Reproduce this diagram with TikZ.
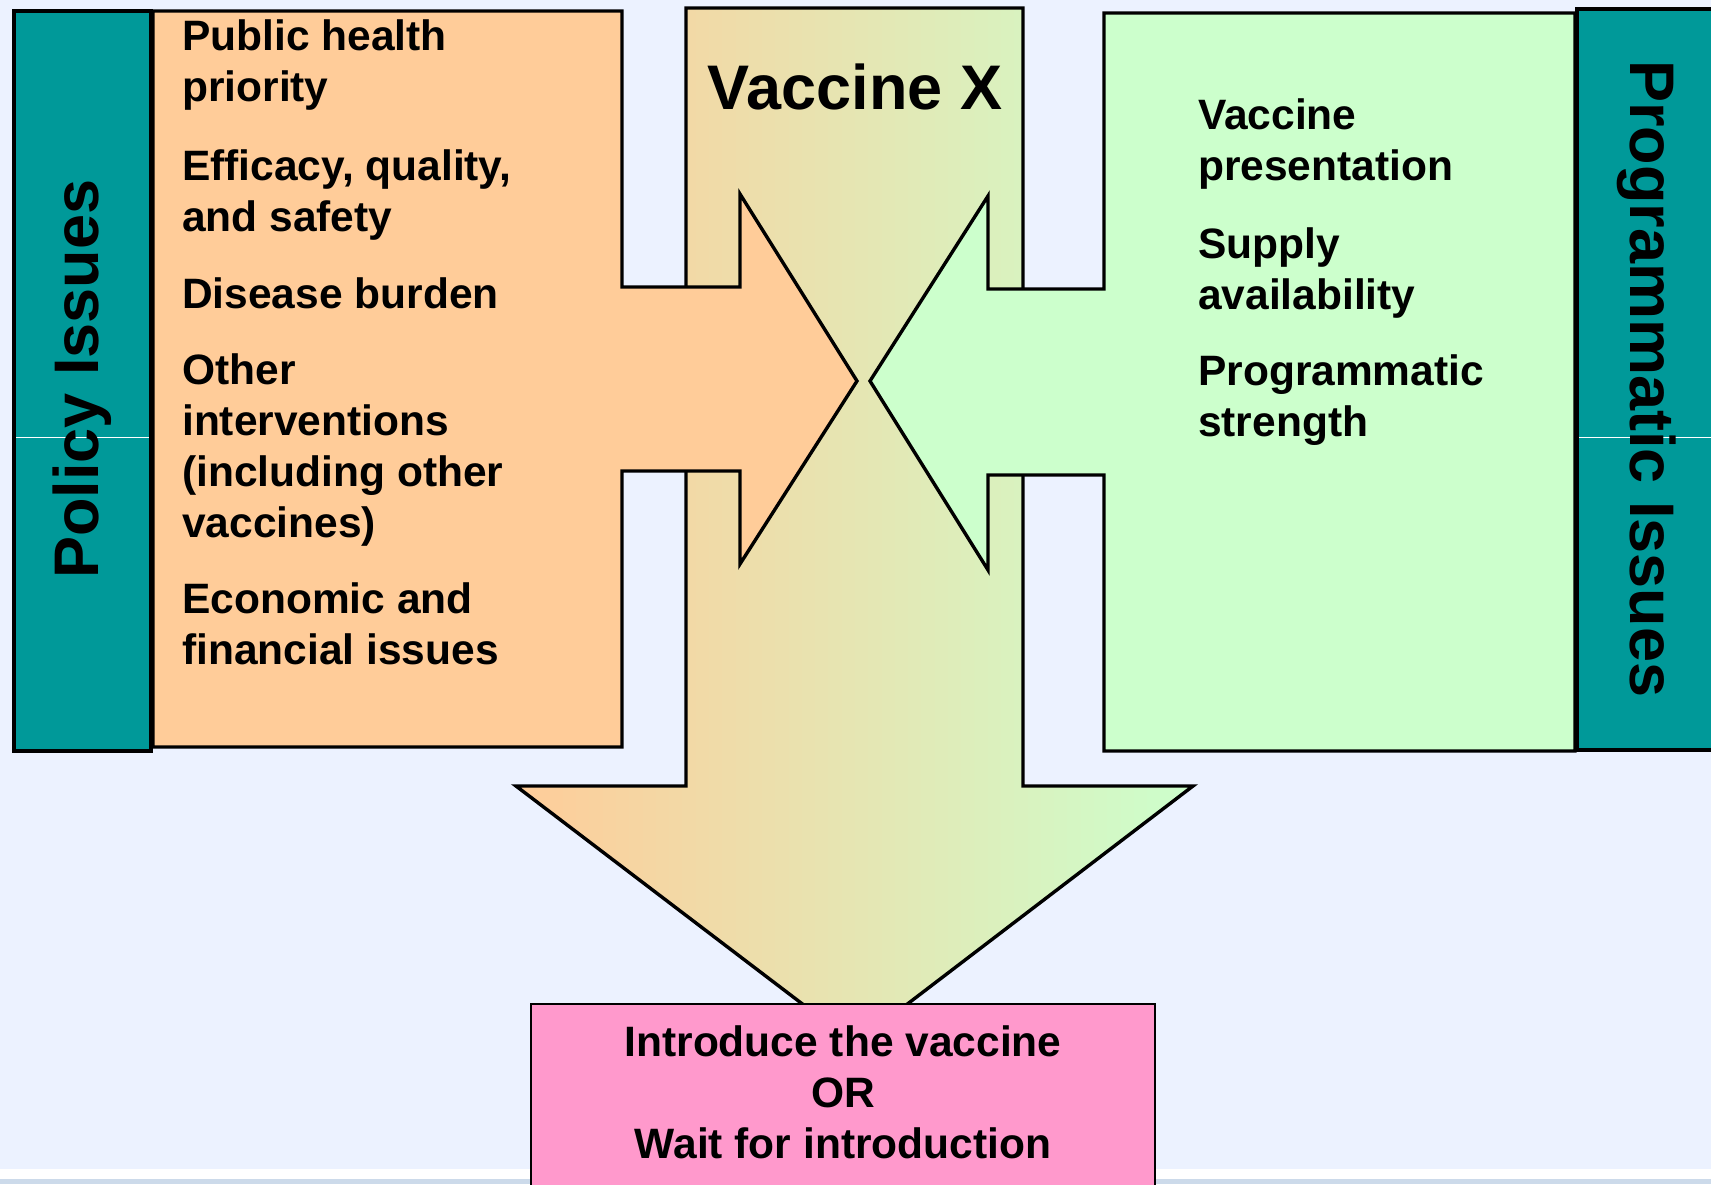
\documentclass[tikz,border=0pt]{standalone}
\usepackage{fontspec}
\setmainfont{Liberation Sans}
\definecolor{bgblue}{RGB}{236,242,255}
\definecolor{tealbox}{RGB}{0,153,153}
\definecolor{orangebox}{RGB}{255,204,153}
\definecolor{greenbox}{RGB}{204,255,204}
\definecolor{pinkbox}{RGB}{255,153,204}
\definecolor{bandblue}{RGB}{204,218,234}
\begin{document}
\begin{tikzpicture}[x=1pt,y=-1pt,
  outline/.style={draw=black,line width=3.4pt,line join=miter},
  bodytext/.style={font=\fontsize{42.5}{51}\selectfont\bfseries,inner sep=0pt,align=left,anchor=base west},
  bigtext/.style={font=\fontsize{63}{70}\selectfont\bfseries,inner sep=0pt,anchor=base}]
\useasboundingbox (0,0) rectangle (1711,1184);
\clip (0,0) rectangle (1711,1184);
\fill[bgblue] (0,0) rectangle (1711,1184);
% bottom bands
\fill[white] (0,1169) rectangle (1711,1179);
\fill[bandblue] (0,1179) rectangle (1711,1184);
% central gradient arrow
\shade[left color=orangebox,right color=greenbox] (686,8) -- (1023,8) -- (1023,786) -- (1193,786) -- (855,1044) -- (516,786) -- (686,786) -- cycle;
\draw[outline] (686,8) -- (1023,8) -- (1023,786) -- (1193,786) -- (855,1044) -- (516,786) -- (686,786) -- cycle;
% teal side boxes
\filldraw[fill=tealbox,outline] (14,11) rectangle (151,751);
\filldraw[fill=tealbox,outline] (1577,9) rectangle (1725,750);
\draw[white,line width=1pt] (16,437) -- (149,437);
\draw[white,line width=1pt] (1579,437) -- (1711,437);
% orange box with arrow
\filldraw[fill=orangebox,outline] (153,11) -- (622,11) -- (622,287) -- (740,287) -- (740,194) -- (857,381) -- (740,564) -- (740,471) -- (622,471) -- (622,747) -- (153,747) -- cycle;
% green box with arrow
\filldraw[fill=greenbox,outline] (1575,13) -- (1104,13) -- (1104,289) -- (988,289) -- (988,196) -- (870,381) -- (988,570) -- (988,475) -- (1104,475) -- (1104,751) -- (1575,751) -- cycle;
% pink result box
\filldraw[fill=pinkbox,draw=black,line width=2.2pt] (531,1004) rectangle (1155,1200);
% texts (anchored at the baseline of the last line)
\node[bigtext] (vx) at (855,109) {Vaccine X};
\node[bigtext,rotate=90] (policy) at (98,379) {Policy Issues};
\node[bigtext,rotate=-90] (prog) at (1630,379) {Programmatic Issues};
\node[bodytext] (p1) at (182,101.5) {Public health\\priority};
\node[bodytext] (p2) at (182,231) {Efficacy, quality,\\and safety};
\node[bodytext] (p3) at (182,308) {Disease burden};
\node[bodytext] (p4) at (182,537) {Other\\interventions\\(including other\\vaccines)};
\node[bodytext] (p5) at (182,664.5) {Economic and\\financial issues};
\node[bodytext] (g1) at (1198,180) {Vaccine\\presentation};
\node[bodytext] (g2) at (1198,309) {Supply\\availability};
\node[bodytext] (g3) at (1198,436.5) {Programmatic\\strength};
\node[bodytext,align=center,anchor=base] (res) at (843,1158) {Introduce the vaccine\\OR\\Wait for introduction};
\end{tikzpicture}
\end{document}
